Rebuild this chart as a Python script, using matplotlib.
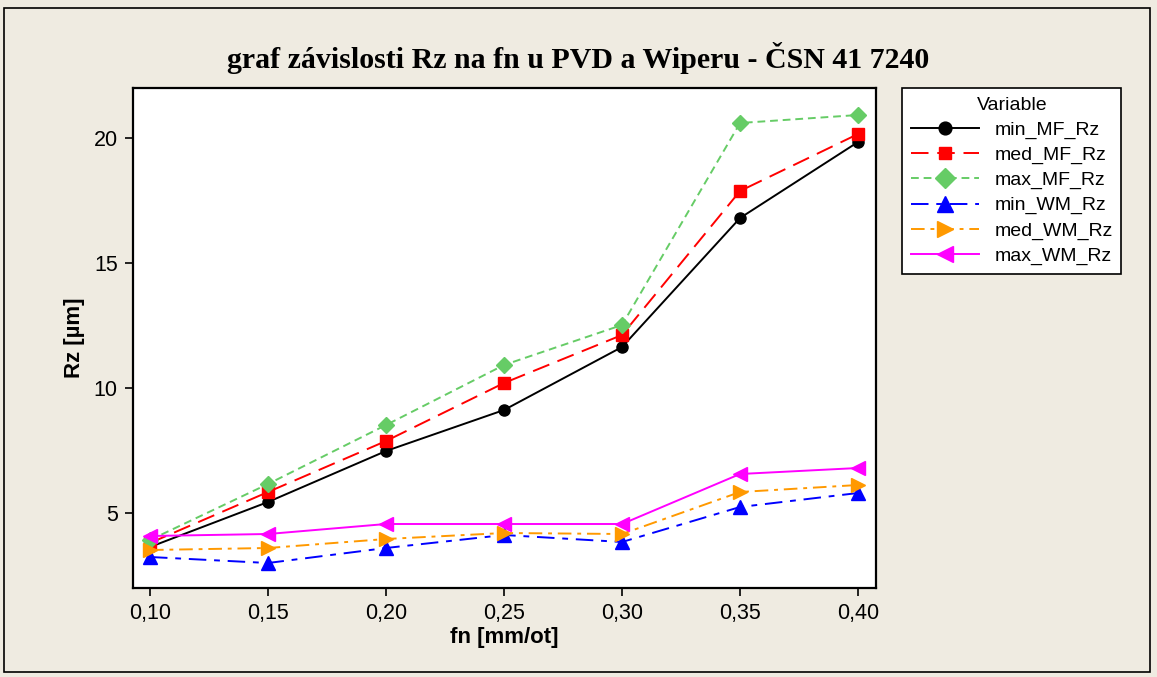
import matplotlib

matplotlib.use("Agg")
import matplotlib.pyplot as plt
from matplotlib.patches import Rectangle

# data
fn = [0.10, 0.15, 0.20, 0.25, 0.30, 0.35, 0.40]
min_MF_Rz = [3.64, 5.44, 7.48, 9.12, 11.64, 16.80, 19.84]
med_MF_Rz = [3.80, 5.84, 7.88, 10.20, 12.12, 17.88, 20.16]
max_MF_Rz = [3.92, 6.16, 8.52, 10.92, 12.52, 20.60, 20.92]
min_WM_Rz = [3.24, 3.00, 3.60, 4.12, 3.84, 5.24, 5.80]
med_WM_Rz = [3.52, 3.60, 3.96, 4.20, 4.16, 5.84, 6.12]
max_WM_Rz = [4.08, 4.16, 4.56, 4.56, 4.56, 6.56, 6.80]
x_ticklabels = ["0,10", "0,15", "0,20", "0,25", "0,30", "0,35", "0,40"]
y_ticks = [5, 10, 15, 20]

BG = "#efebe1"
plt.rcParams["font.family"] = ["Liberation Sans", "DejaVu Sans"]

series = [
    ("min_MF_Rz", min_MF_Rz, "black", "o", "-"),
    ("med_MF_Rz", med_MF_Rz, "#ff0000", "s", (0, (9, 4.5))),
    ("max_MF_Rz", max_MF_Rz, "#66cc66", "D", (0, (4, 2.5))),
    ("min_WM_Rz", min_WM_Rz, "#0000ff", "^", (0, (9, 4, 3, 4))),
    ("med_WM_Rz", med_WM_Rz, "#ff9900", ">", (0, (7, 3, 2, 3))),
    ("max_WM_Rz", max_WM_Rz, "#ff00ff", "<", "-"),
]

fig = plt.figure(figsize=(11.57, 6.77), dpi=100, facecolor=BG)
fig.patches.append(Rectangle((4 / 1157, 1 - 672 / 677), 1146 / 1157, 664 / 677,
                             transform=fig.transFigure, fill=False,
                             edgecolor="black", linewidth=1.2))

ax = fig.add_axes([133 / 1157, 1 - 588 / 677, (876 - 133) / 1157, (588 - 88) / 677])
ax.set_facecolor("white")

for name, vals, color, marker, ls in series:
    ms = 8.5 if marker == "D" else 8
    if marker in ("^", ">", "<"):
        ms = 9.5
    ax.plot(fn, vals, color=color, linestyle=ls, linewidth=1.4, marker=marker,
            markersize=ms, markerfacecolor=color, markeredgecolor=color, label=name)

ax.set_xlim(0.0928, 0.4076)
ax.set_ylim(2.0, 22.0)
ax.set_xticks(fn)
ax.set_xticklabels(x_ticklabels)
ax.set_yticks(y_ticks)
ax.tick_params(axis="both", labelsize=15.5, length=6, width=1.2, direction="out", pad=5)
for sp in ax.spines.values():
    sp.set_linewidth(1.6)

ax.set_xlabel("fn [mm/ot]", fontsize=16, fontweight="bold", labelpad=2)
ax.set_ylabel("Rz [µm]", fontsize=16, fontweight="bold", labelpad=6)

fig.text(0.5, 1 - 58 / 677, "graf závislosti Rz na fn u PVD a Wiperu - ČSN 41 7240",
         ha="center", va="center", fontsize=21.5, fontweight="bold",
         family="Liberation Serif")

leg = fig.legend(loc="upper left", bbox_to_anchor=(902 / 1157, 1 - 88 / 677),
                 borderaxespad=0, title="Variable", fontsize=14, title_fontsize=14,
                 frameon=True, fancybox=False, edgecolor="black", framealpha=1,
                 handlelength=3.5, borderpad=0.45, labelspacing=0.38, handletextpad=0.8,
                 markerscale=1.15)
leg.get_frame().set_linewidth(1.2)

fig.savefig("out.png", dpi=100, facecolor=BG)
